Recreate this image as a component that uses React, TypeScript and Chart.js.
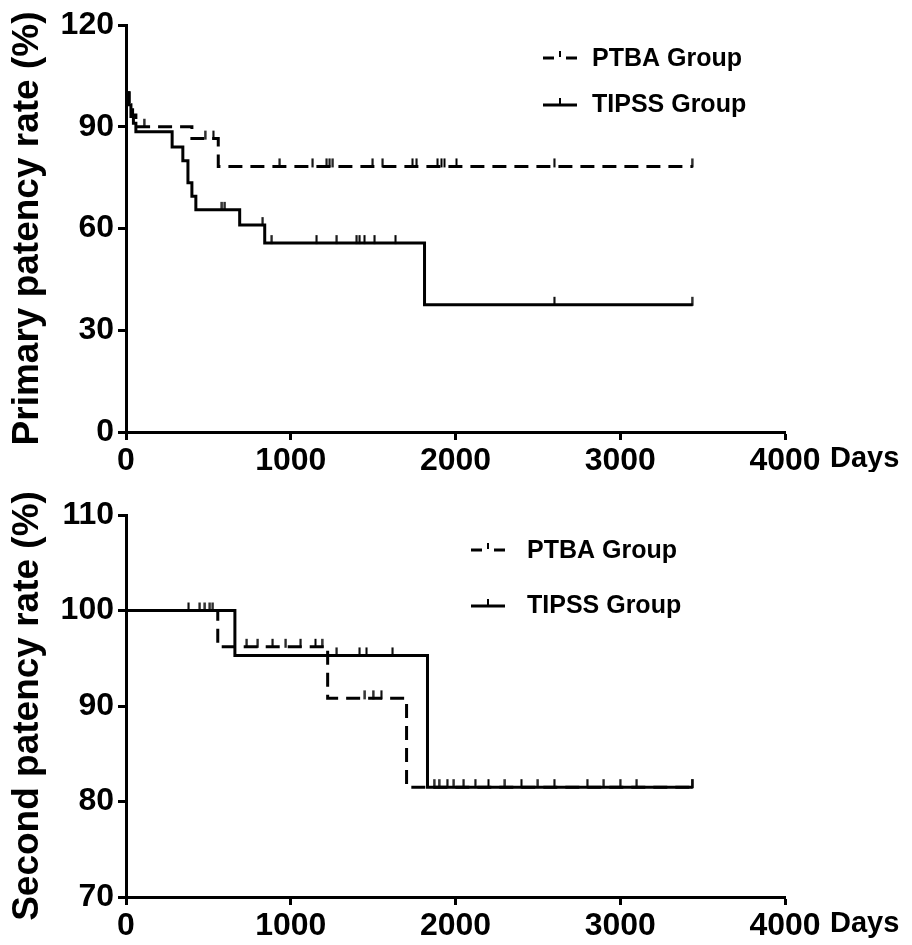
import React, { useEffect, useRef } from "react";
import { Chart, registerables } from "chart.js";

Chart.register(...registerables);

// ---------- Data ----------
const seriesNames = ["PTBA Group", "TIPSS Group"];

// Primary patency (top panel)
const ptbaPrimaryDays = [0, 20, 40, 60, 400, 560, 3440];
const ptbaPrimaryRate = [100, 97, 93.5, 90, 86.5, 78.3, 78.3];
const ptbaPrimaryCensor = [110, 480, 530, 933, 1133, 1218, 1236, 1255, 1497, 1558, 1739, 1764, 1891, 1915, 1933, 2006, 2600, 3436];

const tipssPrimaryDays = [0, 15, 30, 45, 60, 280, 345, 376, 400, 424, 690, 842, 1812, 3440];
const tipssPrimaryRate = [100, 96.5, 93, 91, 88.5, 84, 80, 73.5, 69.5, 65.5, 61, 55.7, 37.5, 37.5];
const tipssPrimaryCensor = [582, 600, 830, 885, 1157, 1279, 1400, 1418, 1448, 1509, 1636, 2600, 3436];

// Second patency (bottom panel)
const ptbaSecondDays = [0, 557, 1224, 1703, 3440];
const ptbaSecondRate = [100, 96.2, 90.8, 81.5, 81.5];
const ptbaSecondCensor = [448, 479, 509, 527, 733, 800, 890, 970, 1060, 1150, 1190, 1450, 1500, 1550, 1900, 1950, 2050, 2200, 2400, 2600, 2900, 3100, 3436];

const tipssSecondDays = [0, 661, 1830, 3440];
const tipssSecondRate = [100, 95.3, 81.5, 81.5];
const tipssSecondCensor = [380, 1279, 1418, 1460, 1618, 1870, 1990, 2120, 2300, 2500, 2800, 3000, 3436];

const xTicks = [0, 1000, 2000, 3000, 4000];
const primaryYTicks = [0, 30, 60, 90, 120];
const secondYTicks = [70, 80, 90, 100, 110];

const primaryTitle = "Primary patency rate (%)";
const secondTitle = "Second patency rate (%)";
const xUnit = "Days";

// ---------- Helpers ----------
const SANS = "'Liberation Sans', Arial, sans-serif";

function stepValue(days: number[], rate: number[], t: number) {
  let v = rate[0];
  for (let i = 0; i < days.length; i++) if (days[i] <= t) v = rate[i];
  return v;
}

// censor mark: short vertical tick rising above the curve
function makeCensorMark() {
  const c = document.createElement("canvas");
  c.width = 3;
  c.height = 18;
  const g = c.getContext("2d") as CanvasRenderingContext2D;
  g.fillStyle = "#000";
  g.fillRect(0.5, 1, 2, 9);
  return c;
}

function kmDatasets(
  days: number[], rate: number[], censor: number[], dashed: boolean, label: string, mark: any
) {
  return [
    {
      label,
      type: "line" as const,
      data: days.map((d, i) => ({ x: d, y: rate[i] })),
      stepped: "before" as const,
      borderColor: "#000",
      borderWidth: 3,
      borderDash: dashed ? [14, 8] : [],
      pointRadius: 0,
      fill: false,
    },
    {
      label: label + " censored",
      type: "scatter" as const,
      data: censor.map((d) => ({ x: d, y: stepValue(days, rate, d) })),
      pointStyle: mark,
      pointRadius: 5,
      borderColor: "#000",
      backgroundColor: "#000",
      showLine: false,
    },
  ];
}

function overlayPlugin(legendX0: number, legendX1: number, textX: number, y1: number, y2: number) {
  return {
    id: "overlay" + y1,
    afterDraw(chart: any) {
      const ctx = chart.ctx;
      const area = chart.chartArea;
      ctx.save();
      ctx.fillStyle = "#000";
      ctx.strokeStyle = "#000";
      // "Days"
      ctx.font = `bold 29px ${SANS}`;
      ctx.textBaseline = "middle";
      ctx.textAlign = "left";
      ctx.fillText(xUnit, area.right + 45, area.bottom + 27);
      // legend
      const mid = (legendX0 + legendX1) / 2;
      ctx.lineWidth = 3;
      ctx.beginPath();
      ctx.moveTo(legendX0, y1); ctx.lineTo(legendX0 + 11, y1);
      ctx.moveTo(legendX1 - 11, y1); ctx.lineTo(legendX1, y1);
      ctx.stroke();
      ctx.lineWidth = 2;
      ctx.beginPath();
      ctx.moveTo(mid, y1 - 7); ctx.lineTo(mid, y1 - 1);
      ctx.stroke();
      ctx.lineWidth = 3;
      ctx.beginPath();
      ctx.moveTo(legendX0, y2 + 1); ctx.lineTo(legendX1, y2 + 1);
      ctx.stroke();
      ctx.lineWidth = 2;
      ctx.beginPath();
      ctx.moveTo(mid, y2 - 6); ctx.lineTo(mid, y2 + 1);
      ctx.stroke();
      ctx.font = `bold 25px ${SANS}`;
      ctx.fillText(seriesNames[0], textX, y1 + 1);
      ctx.fillText(seriesNames[1], textX, y2 + 1);
      ctx.restore();
    },
  };
}

function makeConfig(
  datasets: any[], yMin: number, yMax: number, yTicks: number[], title: string,
  padTop: number, padBottomAxis: number, plugin: any
) {
  return {
    data: { datasets },
    options: {
      animation: false,
      responsive: false,
      layout: { padding: { left: 0, right: 127, top: padTop, bottom: 0 } },
      plugins: { legend: { display: false }, tooltip: { enabled: false } },
      scales: {
        x: {
          type: "linear",
          min: 0,
          max: 4000,
          afterBuildTicks: (s: any) => { s.ticks = xTicks.map((v) => ({ value: v })); },
          afterFit: (s: any) => { s.height = padBottomAxis; },
          ticks: {
            color: "#000",
            font: { family: SANS, size: 32, weight: "bold" },
            padding: 2,
            maxRotation: 0,
            autoSkip: false,
            callback: (v: any) => String(v),
          },
          grid: { display: true, drawOnChartArea: false, drawTicks: true, tickLength: 8, tickWidth: 3, tickColor: "#000" },
          border: { display: true, color: "#000", width: 3 },
        },
        y: {
          type: "linear",
          min: yMin,
          max: yMax,
          afterBuildTicks: (s: any) => { s.ticks = yTicks.map((v) => ({ value: v })); },
          afterFit: (s: any) => { s.width = 126; },
          ticks: {
            color: "#000",
            font: { family: SANS, size: 32, weight: "bold" },
            padding: 4,
            autoSkip: false,
            callback: (v: any) => String(v),
          },
          title: {
            display: true,
            text: title,
            color: "#000",
            font: { family: SANS, size: 37, weight: "bold" },
            padding: { top: 6, bottom: 0 },
          },
          grid: { display: true, drawOnChartArea: false, drawTicks: true, tickLength: 8, tickWidth: 3, tickColor: "#000" },
          border: { display: true, color: "#000", width: 3 },
        },
      },
    },
    plugins: [plugin],
  };
}

export default function App() {
  const topRef = useRef<HTMLCanvasElement>(null);
  const botRef = useRef<HTMLCanvasElement>(null);

  useEffect(() => {
    const mark = makeCensorMark();
    const top = new Chart(
      topRef.current as HTMLCanvasElement,
      makeConfig(
        [
          ...kmDatasets(ptbaPrimaryDays, ptbaPrimaryRate, ptbaPrimaryCensor, true, seriesNames[0], mark),
          ...kmDatasets(tipssPrimaryDays, tipssPrimaryRate, tipssPrimaryCensor, false, seriesNames[1], mark),
        ],
        0, 120, primaryYTicks, primaryTitle, 25, 40,
        overlayPlugin(543, 577, 592, 58, 104)
      ) as any
    );
    const bot = new Chart(
      botRef.current as HTMLCanvasElement,
      makeConfig(
        [
          ...kmDatasets(ptbaSecondDays, ptbaSecondRate, ptbaSecondCensor, true, seriesNames[0], mark),
          ...kmDatasets(tipssSecondDays, tipssSecondRate, tipssSecondCensor, false, seriesNames[1], mark),
        ],
        70, 110, secondYTicks, secondTitle, 43, 48,
        overlayPlugin(471, 505, 527, 78, 133)
      ) as any
    );
    return () => { top.destroy(); bot.destroy(); };
  }, []);

  return (
    <div style={{ position: "absolute", left: 0, top: 0, width: 912, height: 945, background: "#fff" }}>
      <canvas ref={topRef} width={912} height={472} style={{ display: "block" }} />
      <canvas ref={botRef} width={912} height={473} style={{ display: "block" }} />
    </div>
  );
}
